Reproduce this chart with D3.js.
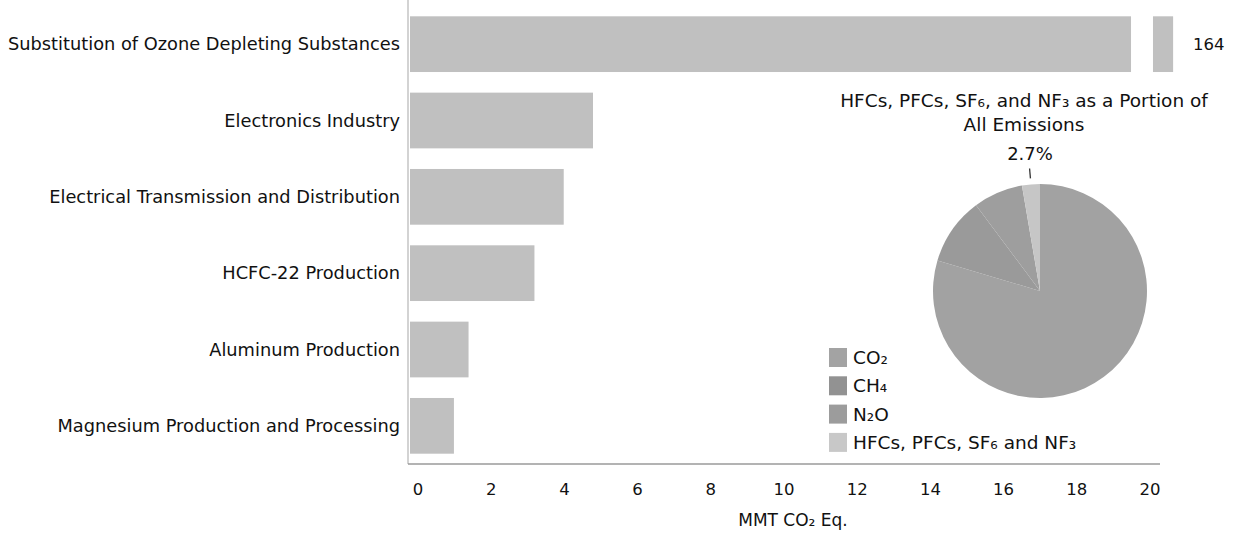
<!DOCTYPE html>
<html><head><meta charset="utf-8">
<script src="https://cdn.jsdelivr.net/npm/d3@7"></script>
<style>body{margin:0;background:#fff}text{font-family:"DejaVu Sans",Verdana,sans-serif;fill:#111}</style>
</head><body><svg id="c" width="1233" height="537"></svg>
<script>
const categories = ["Substitution of Ozone Depleting Substances","Electronics Industry","Electrical Transmission and Distribution","HCFC-22 Production","Aluminum Production","Magnesium Production and Processing"];
const values = [164, 5.0, 4.2, 3.4, 1.6, 1.2];
const xTicks = [0,2,4,6,8,10,12,14,16,18,20];
const gasNames = ["CO₂","CH₄","N₂O","HFCs, PFCs, SF₆ and NF₃"];
const gasShares = [79.6, 10.2, 7.5, 2.7];
const gasColors = ["#a2a2a2","#9a9a9a","#9e9e9e","#c6c6c6"];
const barColor = "#c0c0c0";

const svg = d3.select("#c");
const pLeft = 410, pRight = 1142, pTop = 6, pBottom = 464;
const x = d3.scaleLinear().domain([0,20]).range([pLeft,pRight]);
const y = d3.scaleBand().domain(categories).range([pTop,pBottom]).paddingInner(0.27).paddingOuter(0.135);

svg.append("line").attr("x1",pLeft-2).attr("x2",pLeft-2).attr("y1",0).attr("y2",pBottom).attr("stroke","#c4c4c4").attr("stroke-width",1.5);
svg.append("line").attr("x1",pLeft-2).attr("x2",1160).attr("y1",pBottom).attr("y2",pBottom).attr("stroke","#9a9a9a").attr("stroke-width",1.5);

const breakAt = 19.7, stubFrom = 20.3, stubTo = 20.85;
svg.selectAll("rect.bar").data(values).join("rect").attr("class","bar")
  .attr("x", x(0)).attr("y",(d,i)=>y(categories[i])).attr("height",y.bandwidth())
  .attr("width", d=> x(Math.min(d,breakAt)) - x(0)).attr("fill",barColor);
values.forEach((d,i)=>{ if(d>20){
  svg.append("rect").attr("x",x(stubFrom)).attr("y",y(categories[i])).attr("width",x(stubTo)-x(stubFrom)).attr("height",y.bandwidth()).attr("fill",barColor);
  svg.append("text").attr("x",x(stubTo)+20).attr("y",y(categories[i])+y.bandwidth()/2).attr("dy","0.35em").attr("font-size",16.5).text(d);
}});

svg.selectAll("text.cat").data(categories).join("text").attr("class","cat")
  .attr("x",pLeft-10).attr("y",d=>y(d)+y.bandwidth()/2).attr("dy","0.35em").attr("text-anchor","end").attr("font-size",17.8).text(d=>d);

svg.selectAll("text.xt").data(xTicks).join("text").attr("class","xt")
  .attr("x",d=>x(d)+8).attr("y",495).attr("text-anchor","middle").attr("font-size",16.5).text(d=>d);
svg.append("text").attr("x",793).attr("y",526).attr("text-anchor","middle").attr("font-size",17).text("MMT CO₂ Eq.");

const cx = 1040, cy = 291, r = 107;
const pie = d3.pie().sort(null).value(d=>d)(gasShares);
const arc = d3.arc().innerRadius(0).outerRadius(r);
const pg = svg.append("g").attr("transform",`translate(${cx},${cy})`);
pg.selectAll("path").data(pie).join("path").attr("d",arc).attr("fill",(d,i)=>gasColors[i]);
const hf = pie[3]; const mid = (hf.startAngle+hf.endAngle)/2;
pg.append("line").attr("x1",(r+6)*Math.sin(mid)).attr("x2",(r+16)*Math.sin(mid))
  .attr("y1",-(r+6)*Math.cos(mid)).attr("y2",-(r+16)*Math.cos(mid)).attr("stroke","#333").attr("stroke-width",1.3);
svg.append("text").attr("x",1030).attr("y",160).attr("text-anchor","middle").attr("font-size",18).text(gasShares[3]+"%");
svg.append("text").attr("x",1024).attr("y",107).attr("text-anchor","middle").attr("font-size",18.5).text("HFCs, PFCs, SF₆, and NF₃ as a Portion of");
svg.append("text").attr("x",1024).attr("y",131).attr("text-anchor","middle").attr("font-size",18.5).text("All Emissions");

const legendColors = ["#a3a3a3","#929292","#9c9c9c","#c8c8c8"];
const lg = svg.append("g");
gasNames.forEach((n,i)=>{
  const yy = 348 + i*28.3;
  lg.append("rect").attr("x",829).attr("y",yy).attr("width",18).attr("height",19).attr("fill",legendColors[i]);
  lg.append("text").attr("x",853).attr("y",yy+9.5).attr("dy","0.35em").attr("font-size",18.5).text(n);
});
</script></body></html>
